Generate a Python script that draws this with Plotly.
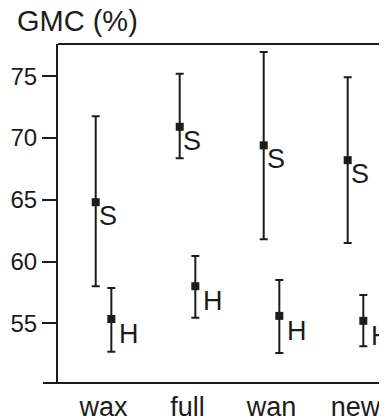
import plotly.graph_objects as go

categories = ["wax", "full", "wan", "new"]
cat_pos = [1, 2, 3, 4]

s_mean = [64.8, 70.9, 69.4, 68.2]
s_upper = [71.75, 75.2, 76.95, 74.9]
s_lower = [58.0, 68.35, 61.8, 61.5]

h_mean = [55.35, 58.0, 55.6, 55.2]
h_upper = [57.85, 60.45, 58.5, 57.3]
h_lower = [52.7, 55.45, 52.6, 53.15]

y_ticks = [55, 60, 65, 70, 75]

ink = "#1c1c1c"
font_family = "Liberation Sans, Arial"
offset = 0.093

s_x = [p - offset for p in cat_pos]
h_x = [p + offset for p in cat_pos]

fig = go.Figure()

def add_series(xs, mean, up, lo):
    fig.add_trace(go.Scatter(
        x=xs, y=mean, mode="markers",
        marker=dict(symbol="square", size=8, color=ink),
        error_y=dict(type="data", symmetric=False,
                     array=[u - m for u, m in zip(up, mean)],
                     arrayminus=[m - l for m, l in zip(mean, lo)],
                     color=ink, thickness=2, width=4),
        showlegend=False, hoverinfo="skip",
    ))

add_series(s_x, s_mean, s_upper, s_lower)
add_series(h_x, h_mean, h_upper, h_lower)

annotations = []
for x, y in zip(s_x, s_mean):
    annotations.append(dict(x=x, y=y, text="S", showarrow=False, xanchor="center", yanchor="middle",
                            xshift=12, yshift=-14, font=dict(family=font_family, size=27, color=ink)))
for x, y in zip(h_x, h_mean):
    annotations.append(dict(x=x, y=y, text="H", showarrow=False, xanchor="center", yanchor="middle",
                            xshift=18, yshift=-15, font=dict(family=font_family, size=27, color=ink)))
annotations.append(dict(xref="paper", yref="paper", x=(15 - 58) / 329, y=1 + (44 - 21) / 339,
                        text="GMC (%)", showarrow=False, xanchor="left", yanchor="middle",
                        font=dict(family=font_family, size=29, color=ink)))

shapes = [
    dict(type="line", xref="paper", yref="paper", x0=0, x1=1, y0=1, y1=1, line=dict(color=ink, width=2)),
    dict(type="line", xref="paper", yref="paper", x0=-15 / 329, x1=1, y0=0, y1=0, line=dict(color=ink, width=2)),
]

# page body adds an 8px offset, so the figure is 8px smaller than the window
fig.update_layout(
    width=379, height=411,
    margin=dict(l=50, r=0, t=36, b=36),
    paper_bgcolor="white", plot_bgcolor="white",
    annotations=annotations, shapes=shapes,
    xaxis=dict(range=[0.458, 4.375], tickvals=cat_pos, ticktext=categories, showgrid=False,
               zeroline=False, showline=False, ticks="", automargin=False, ticklabelstandoff=5,
               tickfont=dict(family=font_family, size=27, color=ink)),
    yaxis=dict(range=[50.17, 77.6], tickvals=y_ticks, showgrid=False, zeroline=False,
               showline=True, linecolor=ink, linewidth=2, ticks="outside", ticklen=14,
               tickwidth=2, tickcolor=ink, automargin=False,
               tickfont=dict(family=font_family, size=24, color=ink)),
)

fig.write_html("out.html")
